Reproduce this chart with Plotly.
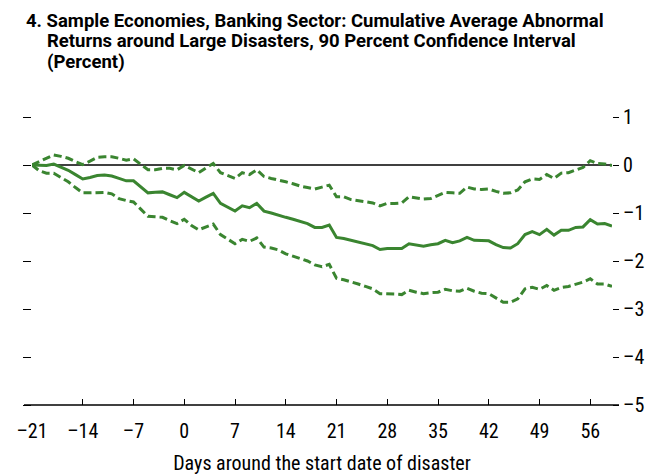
import plotly.graph_objects as go

days = list(range(-21, 60))

mean_car = [
    0.00, -0.01, -0.01, 0.02, -0.04, -0.11, -0.20, -0.29, -0.26, -0.22,
    -0.21, -0.23, -0.28, -0.33, -0.33, -0.46, -0.58, -0.57, -0.56, -0.62,
    -0.68, -0.57, -0.66, -0.75, -0.67, -0.59, -0.80, -0.88, -0.96, -0.85,
    -0.89, -0.80, -0.96, -1.00, -1.05, -1.09, -1.13, -1.17, -1.22, -1.30,
    -1.30, -1.25, -1.51, -1.53, -1.57, -1.61, -1.64, -1.68, -1.76, -1.74,
    -1.74, -1.74, -1.64, -1.67, -1.69, -1.66, -1.64, -1.57, -1.62, -1.58,
    -1.51, -1.57, -1.58, -1.58, -1.66, -1.72, -1.73, -1.64, -1.45, -1.39,
    -1.45, -1.34, -1.46, -1.36, -1.36, -1.30, -1.29, -1.14, -1.23, -1.22,
    -1.27,
]

upper_ci = [
    0.00, 0.07, 0.14, 0.21, 0.18, 0.14, 0.07, 0.01, 0.08, 0.16,
    0.17, 0.17, 0.14, 0.10, 0.13, 0.01, -0.10, -0.10, -0.07, -0.07,
    -0.10, -0.01, -0.09, -0.16, -0.06, 0.03, -0.16, -0.22, -0.28, -0.16,
    -0.20, -0.10, -0.24, -0.28, -0.31, -0.35, -0.39, -0.44, -0.47, -0.50,
    -0.46, -0.42, -0.66, -0.66, -0.72, -0.74, -0.76, -0.79, -0.85, -0.80,
    -0.80, -0.79, -0.66, -0.69, -0.71, -0.70, -0.64, -0.57, -0.58, -0.59,
    -0.46, -0.50, -0.51, -0.50, -0.55, -0.59, -0.58, -0.52, -0.35, -0.29,
    -0.30, -0.20, -0.28, -0.17, -0.16, -0.11, -0.05, 0.09, 0.03, 0.02,
    -0.01,
]

lower_ci = [
    0.00, -0.12, -0.17, -0.17, -0.26, -0.35, -0.47, -0.58, -0.58, -0.57,
    -0.57, -0.60, -0.70, -0.74, -0.77, -0.92, -1.07, -1.08, -1.09, -1.16,
    -1.22, -1.13, -1.26, -1.35, -1.29, -1.23, -1.45, -1.55, -1.64, -1.55,
    -1.59, -1.52, -1.71, -1.73, -1.77, -1.85, -1.90, -1.95, -2.00, -2.08,
    -2.12, -2.07, -2.36, -2.39, -2.43, -2.48, -2.53, -2.58, -2.68, -2.68,
    -2.69, -2.70, -2.61, -2.65, -2.68, -2.66, -2.65, -2.59, -2.62, -2.63,
    -2.57, -2.63, -2.67, -2.68, -2.77, -2.86, -2.86, -2.79, -2.58, -2.55,
    -2.59, -2.51, -2.61, -2.55, -2.53, -2.48, -2.44, -2.37, -2.48, -2.48,
    -2.53,
]

x_ticks = [-21, -14, -7, 0, 7, 14, 21, 28, 35, 42, 49, 56]
x_ticktext = ["–21", "–14", "–7", "0", "7", "14", "21", "28", "35", "42", "49", "56"]
y_ticks = [1, 0, -1, -2, -3, -4, -5]
y_ticktext = ["1", "0", "–1", "–2", "–3", "–4", "–5"]

title_lines = [
    "4. Sample Economies, Banking Sector: Cumulative Average Abnormal",
    "Returns around Large Disasters, 90 Percent Confidence Interval",
    "(Percent)",
]
x_title = "Days around the start date of disaster"

GREEN = "#3A8530"
FONT = "Roboto Condensed, Roboto, sans-serif"
TITLE_FONT = "Roboto, sans-serif"

# page has an 8px body margin; figure sized to fit the 662x475 window
OFF = 8
W, H = 662 - OFF, 475 - OFF
L, T = 32 - OFF, 117 - OFF
R = W - (612 - OFF)
B = H - (405 - OFF)
pw = W - L - R
ph = H - T - B


def px_x(p):
    return (p - OFF - L) / pw


def px_y(p):
    return (H - B - (p - OFF)) / ph


fig = go.Figure()
fig.add_trace(go.Scatter(x=days, y=upper_ci, mode="lines",
                         line=dict(color=GREEN, width=3, dash="8px,4px"),
                         showlegend=False, hoverinfo="skip"))
fig.add_trace(go.Scatter(x=days, y=lower_ci, mode="lines",
                         line=dict(color=GREEN, width=3, dash="8px,4px"),
                         showlegend=False, hoverinfo="skip"))
fig.add_trace(go.Scatter(x=days, y=mean_car, mode="lines",
                         line=dict(color=GREEN, width=3),
                         showlegend=False, hoverinfo="skip"))
# invisible trace to activate right axis
fig.add_trace(go.Scatter(x=[days[0]], y=[0], yaxis="y2", mode="markers",
                         marker=dict(opacity=0), showlegend=False, hoverinfo="skip"))

# zero line
fig.add_shape(type="line", xref="paper", yref="y", x0=0, x1=1, y0=0, y1=0,
              line=dict(color="black", width=1.3), layer="below")
# x axis line extending slightly beyond plot area
fig.add_shape(type="line", xref="paper", yref="paper", x0=px_x(24), x1=px_x(619), y0=0, y1=0,
              line=dict(color="black", width=1.5))

annos = []
title_pos = [(24, 20.5), (45, 41), (45, 61.5)]
for txt, (xp, yp) in zip(title_lines, title_pos):
    annos.append(dict(text="<b>" + txt + "</b>", xref="paper", yref="paper",
                      x=px_x(xp), y=px_y(yp), xanchor="left", yanchor="middle",
                      showarrow=False, font=dict(family=TITLE_FONT, size=18.5, color="black")))

fig.update_layout(
    width=W, height=H,
    margin=dict(l=L, r=R, t=T, b=B, autoexpand=False),
    paper_bgcolor="white", plot_bgcolor="white",
    font=dict(family=FONT, size=20, color="black"),
    annotations=annos,
    xaxis=dict(range=[-21, 59], tickvals=x_ticks, ticktext=x_ticktext,
               ticks="inside", ticklen=6, tickwidth=1.2, tickcolor="black",
               ticklabelstandoff=12, automargin=False,
               showgrid=False, zeroline=False, showline=False,
               title=dict(text=x_title, font=dict(family=FONT, size=20), standoff=14),
               tickfont=dict(family=FONT, size=20)),
    yaxis=dict(range=[-5, 1], tickvals=y_ticks, showticklabels=False,
               ticks="outside", ticklen=8, tickwidth=1.2, tickcolor="black",
               automargin=False,
               showgrid=False, zeroline=False, showline=False),
    yaxis2=dict(range=[-5, 1], tickvals=y_ticks, ticktext=y_ticktext,
                overlaying="y", side="right", anchor="x", automargin=False,
                ticks="outside", ticklen=6, tickwidth=1.2, tickcolor="black",
                showgrid=False, zeroline=False, showline=False,
                tickfont=dict(family=FONT, size=20)),
)

fig.write_html("out.html")
